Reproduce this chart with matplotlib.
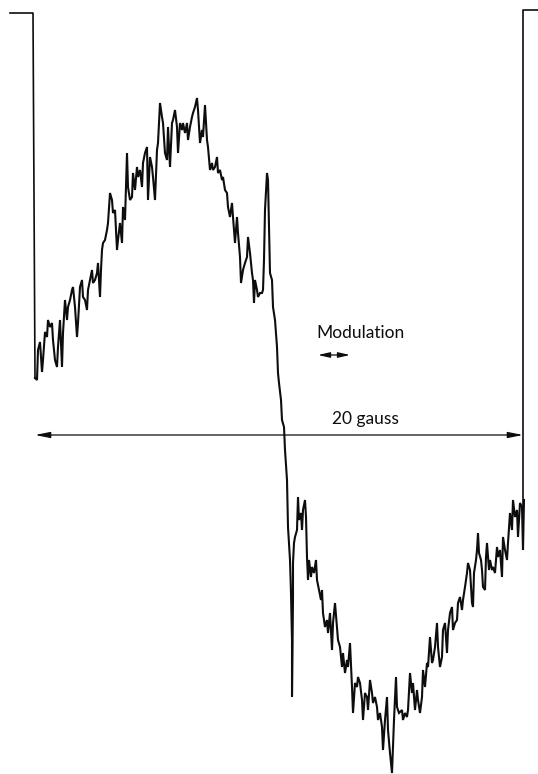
import matplotlib
matplotlib.use("Agg")
import matplotlib.pyplot as plt

# Recorder trace (derivative spectrum) in plot units
# (x: field position, y: pen position, downward positive as on the chart).
trace_x = [35, 37, 38, 40, 42, 43, 45, 47, 48, 50, 52, 53, 55, 57, 58, 60, 62, 63, 65, 67,
           68, 70, 72, 73, 75, 77, 78, 80, 82, 83, 85, 87, 88, 90, 92, 93, 95, 97, 98, 100,
           101, 102, 103, 105, 107, 108, 110, 112, 113, 115, 117, 118, 120, 122, 123, 125, 127, 128, 130, 132,
           133, 135, 137, 138, 140, 142, 143, 145, 147, 148, 150, 152, 153, 155, 157, 158, 160, 162, 163, 165,
           167, 168, 170, 172, 173, 175, 177, 178, 180, 182, 183, 185, 187, 188, 190, 192, 193, 195, 197, 198,
           200, 202, 203, 205, 207, 208, 210, 212, 213, 215, 217, 218, 220, 222, 223, 225, 227, 228, 230, 232,
           233, 235, 237, 238, 240, 241, 243, 245, 247, 248, 250, 252, 253, 254, 255, 257, 258, 260, 262, 263,
           264, 265, 267, 268, 269, 270, 272, 273, 275, 277, 278, 279, 281, 282, 284, 285, 287, 288, 290, 291,
           292, 292, 293, 293, 294, 295, 297, 298, 299, 301, 302, 303, 305, 306, 307, 308, 309, 311, 312, 314,
           316, 317, 319, 321, 322, 323, 325, 327, 328, 330, 332, 333, 335, 337, 338, 340, 342, 343, 345, 347,
           348, 350, 352, 353, 355, 357, 358, 360, 362, 363, 365, 367, 368, 370, 372, 373, 375, 377, 378, 380,
           382, 383, 385, 387, 388, 390, 392, 393, 394, 396, 397, 399, 402, 403, 405, 407, 408, 410, 412, 413,
           415, 417, 418, 420, 422, 423, 425, 427, 428, 430, 432, 433, 435, 437, 438, 440, 442, 443, 445, 447,
           448, 450, 452, 453, 455, 457, 458, 460, 462, 463, 465, 467, 468, 470, 472, 473, 474, 476, 477, 478,
           479, 481, 482, 483, 485, 486, 487, 489, 490, 492, 493, 495, 497, 498, 500, 502, 503, 505, 507, 508,
           510, 512, 513, 515, 517, 518, 520, 522, 523, 524]
trace_y = [378, 380, 350, 342, 372, 360, 332, 337, 320, 327, 323, 340, 360, 367, 347, 320, 367, 333, 300, 320,
           307, 300, 290, 287, 307, 337, 323, 287, 280, 297, 300, 310, 290, 280, 270, 283, 280, 273, 263, 297,
           270, 250, 243, 240, 230, 223, 193, 200, 213, 210, 250, 240, 223, 243, 207, 220, 153, 187, 200, 197,
           173, 190, 167, 177, 170, 187, 163, 153, 147, 200, 157, 167, 177, 200, 150, 143, 103, 117, 123, 153,
           160, 127, 167, 123, 120, 110, 127, 153, 123, 130, 123, 133, 123, 140, 127, 117, 113, 107, 98, 110,
           143, 130, 137, 105, 140, 147, 170, 163, 170, 167, 157, 173, 170, 180, 177, 190, 193, 207, 217, 203,
           217, 243, 217, 233, 257, 283, 270, 263, 257, 237, 253, 273, 280, 303, 280, 290, 297, 293, 293, 290,
           260, 210, 173, 180, 227, 273, 280, 307, 320, 347, 373, 383, 400, 420, 427, 450, 480, 527, 560, 593,
           640, 697, 597, 563, 543, 537, 530, 497, 520, 513, 530, 510, 500, 517, 557, 580, 560, 577, 567, 573,
           560, 580, 590, 600, 590, 613, 627, 620, 633, 613, 650, 623, 603, 627, 640, 647, 667, 653, 673, 660,
           667, 643, 687, 713, 683, 687, 677, 683, 700, 720, 693, 697, 710, 680, 693, 703, 697, 707, 720, 713,
           727, 750, 720, 697, 730, 753, 773, 747, 720, 677, 707, 713, 710, 720, 713, 717, 710, 673, 693, 683,
           710, 690, 700, 713, 697, 670, 687, 663, 667, 637, 663, 660, 647, 623, 647, 667, 657, 630, 623, 653,
           630, 613, 607, 630, 623, 620, 603, 597, 610, 600, 587, 573, 563, 570, 603, 607, 573, 560, 550, 533,
           553, 560, 570, 587, 590, 557, 543, 570, 560, 570, 567, 573, 547, 557, 550, 577, 537, 550, 560, 543,
           513, 530, 500, 517, 510, 537, 503, 507, 550, 500]

# Frame brackets at the two ends of the sweep
left_bracket_x = [10, 33, 35]
left_bracket_y = [13, 13, 378]
right_bracket_x = [523, 523, 538]
right_bracket_y = [548, 10, 10]

# Scale bar (20 gauss) and modulation amplitude marker
scale_label = "20 gauss"
scale_start, scale_end, scale_level = 35, 523, 435
mod_label = "Modulation"
mod_start, mod_end, mod_level = 318, 350, 355

fig = plt.figure(figsize=(5.38, 7.74), dpi=100)
ax = fig.add_axes([0, 0, 1, 1])
ax.set_xlim(0, 538)
ax.set_ylim(774, 0)
ax.axis("off")

ink = "#0d0d0d"
ax.plot(trace_x, trace_y, color=ink, lw=1.5, solid_joinstyle="miter")
ax.plot(left_bracket_x, left_bracket_y, color=ink, lw=1.2)
ax.plot(right_bracket_x, right_bracket_y, color=ink, lw=1.2)

ax.annotate("", xy=(scale_start, scale_level), xytext=(scale_end, scale_level),
            arrowprops=dict(arrowstyle="<|-|>,head_length=0.9,head_width=0.18",
                            lw=0.9, color=ink, shrinkA=0, shrinkB=0))
ax.text((333 + 398) / 2, 419, scale_label, ha="center", va="center",
        fontsize=12.5, family=["Lato", "DejaVu Sans"], color=ink)

ax.annotate("", xy=(mod_start, mod_level), xytext=(mod_end, mod_level),
            arrowprops=dict(arrowstyle="<|-|>,head_length=0.7,head_width=0.16",
                            lw=0.9, color=ink, shrinkA=0, shrinkB=0))
ax.text(316, 333, mod_label, ha="left", va="center",
        fontsize=12.5, family=["Lato", "DejaVu Sans"], color=ink)

fig.savefig("out.png", dpi=100)
